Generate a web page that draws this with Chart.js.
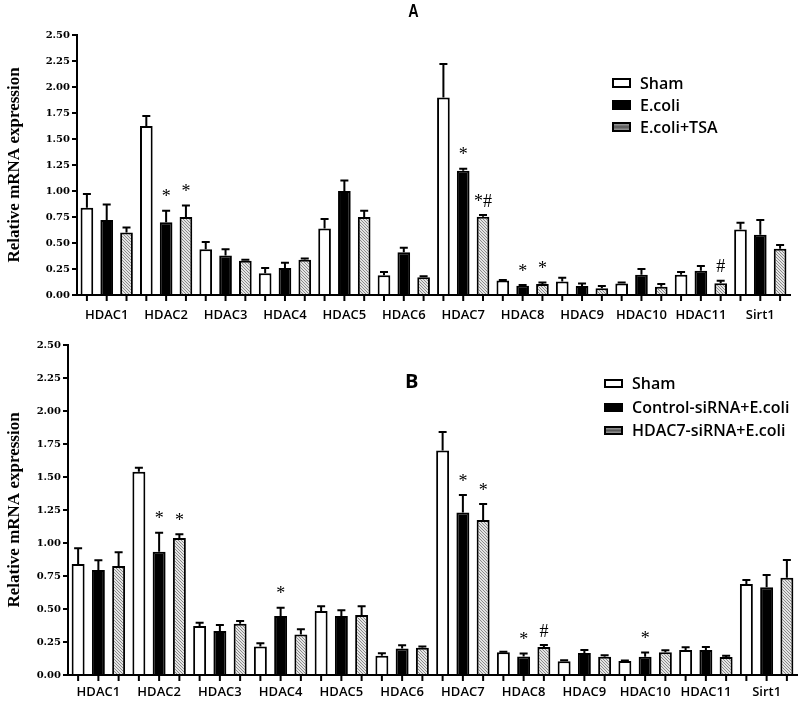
<!DOCTYPE html>
<html>
<head>
<meta charset="utf-8">
<script src="https://cdn.jsdelivr.net/npm/chart.js@4.4.0/dist/chart.umd.min.js"></script>
<style>
  body { margin: 0; width: 800px; height: 704px; background: #fff; position: relative; overflow: hidden; }
  .wrap { position: absolute; left: 0; width: 800px; }
  #wrapA { top: 0; height: 335px; }
  #wrapB { top: 335px; height: 369px; }
  .tag { position: absolute; font-weight: bold; color: #000; line-height: 1; }
  .leg { position: absolute; display: flex; align-items: center; font-family: 'Open Sans', sans-serif; font-weight: 600; color: #000; }
  .sw { box-sizing: border-box; border: 2px solid #000; margin-right: 9px; }
  .sham { background: #fff; }
  .black { background: #000; }
  .hatch { background: linear-gradient(#9a9a9a, #555 50%, #9a9a9a); }
</style>
</head>
<body>
<div class="wrap" id="wrapA"><canvas id="chartA" width="800" height="335"></canvas></div>
<div class="wrap" id="wrapB"><canvas id="chartB" width="800" height="369"></canvas></div>

<div class="tag" style="left:407px;top:2px;font-family:'Liberation Sans Narrow','Liberation Sans',sans-serif;font-size:18px;transform:scaleX(0.8);">A</div>
<div class="tag" style="left:405px;top:371px;font-family:'Open Sans',sans-serif;font-size:20px;">B</div>

<div class="leg" style="left:612px;top:72px;font-size:16px;"><span class="sw sham" style="width:19px;height:10px"></span>Sham</div>
<div class="leg" style="left:612px;top:94px;font-size:16px;"><span class="sw black" style="width:19px;height:10px"></span>E.coli</div>
<div class="leg" style="left:612px;top:116px;font-size:16px;"><span class="sw hatch" style="width:19px;height:10px"></span>E.coli+TSA</div>

<div class="leg" style="left:604px;top:372px;font-size:16px;"><span class="sw sham" style="width:19px;height:9px"></span>Sham</div>
<div class="leg" style="left:604px;top:396px;font-size:16px;"><span class="sw black" style="width:19px;height:9px"></span>Control-siRNA+E.coli</div>
<div class="leg" style="left:604px;top:419px;font-size:16px;"><span class="sw hatch" style="width:19px;height:9px"></span>HDAC7-siRNA+E.coli</div>

<script>
// Categories
const genes = ['HDAC1', 'HDAC2', 'HDAC3', 'HDAC4', 'HDAC5', 'HDAC6', 'HDAC7', 'HDAC8', 'HDAC9', 'HDAC10', 'HDAC11', 'Sirt1'];
const yTicks = [0, 0.25, 0.5, 0.75, 1, 1.25, 1.5, 1.75, 2, 2.25, 2.5];

// Panel A: means, error (SEM) and significance marks
const shamA = [0.84, 1.625, 0.44, 0.21, 0.64, 0.19, 1.90, 0.14, 0.13, 0.11, 0.195, 0.63];
const shamErrA = [0.13, 0.095, 0.07, 0.05, 0.09, 0.03, 0.32, 0.005, 0.035, 0.01, 0.025, 0.065];
const ecoliA = [0.72, 0.70, 0.38, 0.26, 1.00, 0.41, 1.195, 0.09, 0.087, 0.195, 0.234, 0.58];
const ecoliErrA = [0.15, 0.11, 0.06, 0.05, 0.10, 0.045, 0.02, 0.005, 0.023, 0.055, 0.046, 0.14];
const tsaA = [0.60, 0.75, 0.33, 0.34, 0.75, 0.17, 0.753, 0.105, 0.065, 0.08, 0.112, 0.445];
const tsaErrA = [0.05, 0.11, 0.01, 0.01, 0.06, 0.01, 0.017, 0.015, 0.022, 0.025, 0.026, 0.035];
const ecoliMarkA = ['', '*', '', '', '', '', '*', '*', '', '', '', ''];
const tsaMarkA = ['', '*', '', '', '', '', '*#', '*', '', '', '#', ''];

// Panel B
const shamB = [0.84, 1.54, 0.371, 0.215, 0.485, 0.146, 1.70, 0.172, 0.104, 0.106, 0.19, 0.689];
const shamErrB = [0.12, 0.03, 0.025, 0.025, 0.035, 0.018, 0.14, 0.005, 0.007, 0.003, 0.02, 0.031];
const ctrlB = [0.795, 0.934, 0.333, 0.447, 0.447, 0.20, 1.232, 0.141, 0.167, 0.139, 0.19, 0.664];
const ctrlErrB = [0.075, 0.144, 0.046, 0.063, 0.043, 0.025, 0.132, 0.021, 0.023, 0.031, 0.022, 0.094];
const h7B = [0.826, 1.038, 0.389, 0.306, 0.455, 0.207, 1.174, 0.212, 0.139, 0.172, 0.136, 0.737];
const h7ErrB = [0.104, 0.028, 0.021, 0.04, 0.065, 0.008, 0.121, 0.015, 0.01, 0.015, 0.01, 0.134];
const ctrlMarkB = ['', '*', '', '*', '', '', '*', '*', '', '*', '', ''];
const h7MarkB = ['', '*', '', '', '', '', '*', '#', '', '', '', ''];

// diagonal hatch fill
function makeHatch() {
    const c = document.createElement('canvas');
    c.width = 3; c.height = 3;
    const g = c.getContext('2d');
    g.fillStyle = '#e4e4e4';
    g.fillRect(0, 0, 3, 3);
    g.fillStyle = '#8a8a8a';
    for (let k = 0; k < 3; k++) g.fillRect(k, k, 1, 1);
    return g.createPattern(c, 'repeat');
}
const hatch = makeHatch();

// error bars, significance marks and per-bar tick marks
const errorBars = {
    id: 'errorBars',
    afterDatasetsDraw(chart) {
        const ctx = chart.ctx;
        const y = chart.scales.y;
        const area = chart.chartArea;
        ctx.save();
        ctx.strokeStyle = '#000';
        ctx.fillStyle = '#000';
        ctx.lineWidth = 2;
        chart.data.datasets.forEach((ds, i) => {
            const meta = chart.getDatasetMeta(i);
            meta.data.forEach((bar, j) => {
                const top = y.getPixelForValue(ds.data[j] + ds.errors[j]);
                ctx.beginPath();
                ctx.moveTo(bar.x, bar.y);
                ctx.lineTo(bar.x, top);
                ctx.moveTo(bar.x - 4, top);
                ctx.lineTo(bar.x + 4, top);
                ctx.stroke();
                // tick under each bar
                ctx.beginPath();
                ctx.moveTo(bar.x, area.bottom);
                ctx.lineTo(bar.x, area.bottom + 6);
                ctx.stroke();
                const mark = ds.marks ? ds.marks[j] : '';
                if (mark) {
                    ctx.font = chart.options.markFont;
                    ctx.textAlign = 'center';
                    ctx.textBaseline = 'bottom';
                    ctx.fillText(mark, bar.x, top - 4);
                }
            });
        });
        ctx.restore();
    }
};

function makeChart(id, sets, layout) {
    const ctx = document.getElementById(id).getContext('2d');
    return new Chart(ctx, {
        type: 'bar',
        data: {
            labels: genes,
            datasets: sets.map((s, i) => ({
                label: s.label,
                data: s.data,
                errors: s.errors,
                marks: s.marks,
                backgroundColor: [ '#fff', '#000', hatch ][i],
                borderColor: '#000',
                borderWidth: 2,
                categoryPercentage: 1,
                barPercentage: 0.64
            }))
        },
        options: {
            responsive: false,
            animation: false,
            markFont: '18px "Liberation Serif", serif',
            layout: { padding: layout.padding },
            plugins: { legend: { display: false }, tooltip: { enabled: false } },
            scales: {
                x: {
                    grid: { display: false, drawTicks: false },
                    border: { color: '#000', width: 2 },
                    ticks: {
                        color: '#000',
                        padding: layout.labelPad,
                        maxRotation: 0,
                        minRotation: 0,
                        autoSkip: false,
                        font: layout.labelFont
                    },
                    afterFit(s) { s.height = layout.xHeight; }
                },
                y: {
                    min: 0,
                    max: 2.5,
                    afterBuildTicks(s) { s.ticks = yTicks.map(v => ({ value: v })); },
                    ticks: {
                        color: '#000',
                        padding: 2,
                        callback: v => Number(v).toFixed(2),
                        font: { family: '"DejaVu Serif", serif', weight: 'bold', size: 10 }
                    },
                    grid: { drawOnChartArea: false, drawTicks: true, tickLength: 5, color: '#000', lineWidth: 2 },
                    border: { color: '#000', width: 2 },
                    title: {
                        display: true,
                        text: 'Relative mRNA expression',
                        color: '#000',
                        padding: { top: 4, bottom: 0 },
                        font: { family: '"Liberation Serif", serif', weight: 'bold', size: 17 }
                    },
                    afterFit(s) { s.width = layout.yWidth; }
                }
            }
        },
        plugins: [errorBars]
    });
}

makeChart('chartA', [
    { label: 'Sham', data: shamA, errors: shamErrA, marks: null },
    { label: 'E.coli', data: ecoliA, errors: ecoliErrA, marks: ecoliMarkA },
    { label: 'E.coli+TSA', data: tsaA, errors: tsaErrA, marks: tsaMarkA }
], {
    padding: { top: 35, right: 10, left: 0, bottom: 0 },
    xHeight: 40,
    yWidth: 77,
    labelPad: 12,
    labelFont: { family: '"Open Sans", sans-serif', weight: '600', size: 13 }
});

makeChart('chartB', [
    { label: 'Sham', data: shamB, errors: shamErrB, marks: null },
    { label: 'Control-siRNA+E.coli', data: ctrlB, errors: ctrlErrB, marks: ctrlMarkB },
    { label: 'HDAC7-siRNA+E.coli', data: h7B, errors: h7ErrB, marks: h7MarkB }
], {
    padding: { top: 10, right: 3, left: 0, bottom: 0 },
    xHeight: 29,
    yWidth: 68,
    labelPad: 9,
    labelFont: { family: '"Open Sans", sans-serif', weight: '600', size: 13 }
});
</script>
</body>
</html>
